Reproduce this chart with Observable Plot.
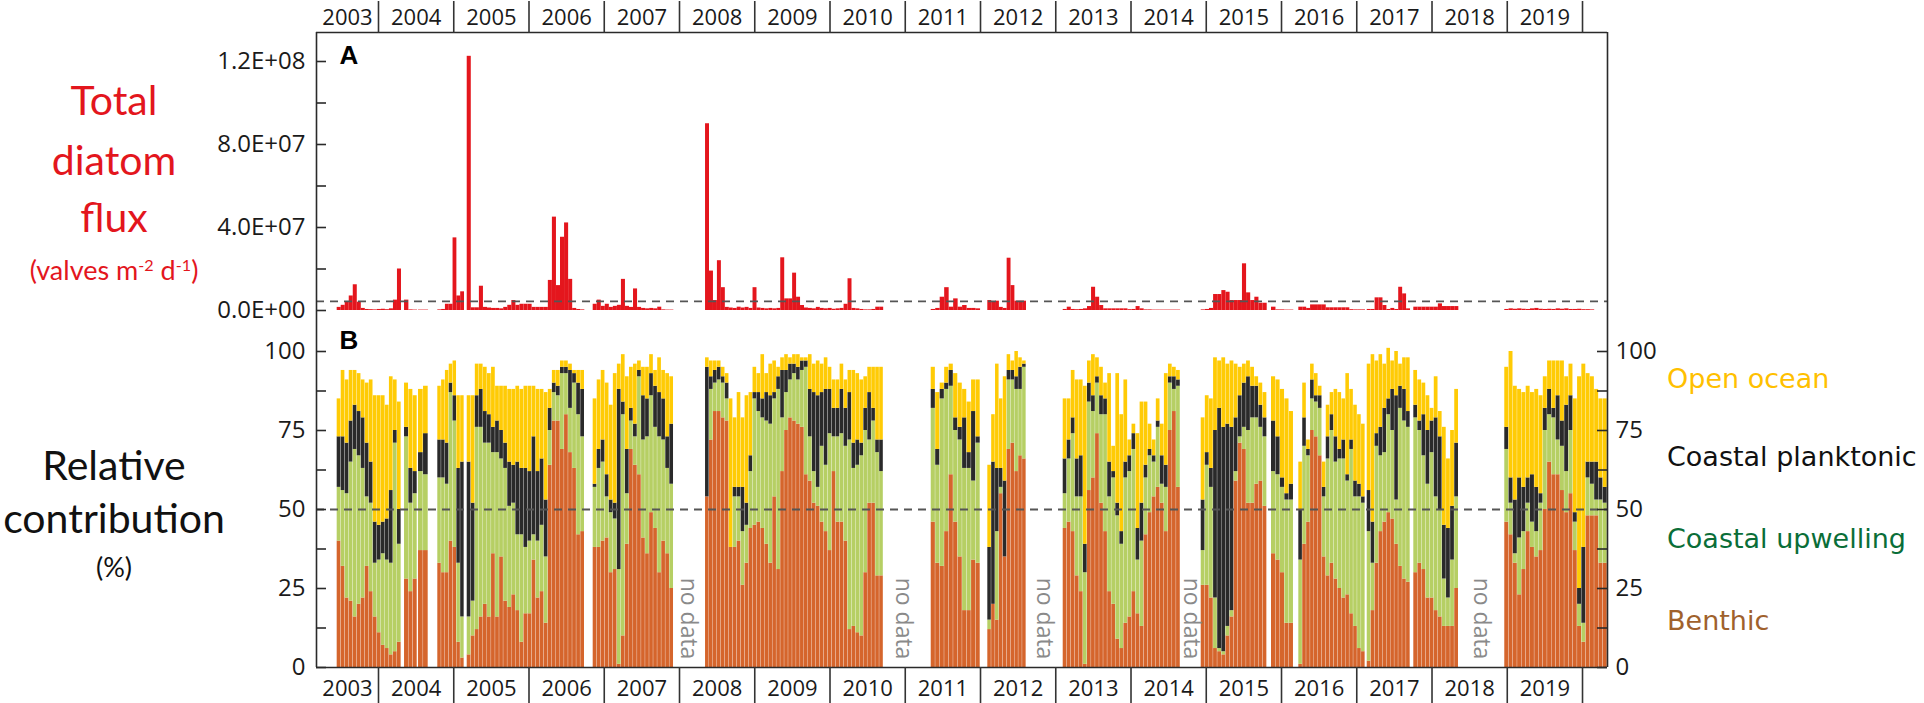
<!DOCTYPE html>
<html><head><meta charset="utf-8">
<script src="https://cdn.jsdelivr.net/npm/d3@7"></script>
<script src="https://cdn.jsdelivr.net/npm/@observablehq/plot@0.6"></script>
<style>
html,body{margin:0;padding:0;background:#fff;}
body{width:1924px;height:703px;overflow:hidden;position:relative;font-family:"Open Sans",sans-serif;}
.abs{position:absolute;}
.tl{position:absolute;left:0;width:228px;text-align:center;font-family:Lato,"Open Sans",sans-serif;white-space:nowrap;}
.lg{position:absolute;left:1667px;font-family:"DejaVu Sans",sans-serif;font-size:27px;line-height:34px;white-space:nowrap;}
sup{font-size:60%;vertical-align:0;position:relative;top:-0.55em;}
</style></head><body>
<div id="pa" class="abs" style="left:0;top:0"></div>
<div id="pb" class="abs" style="left:0;top:320px"></div>

<div class="tl" style="top:77px;font-size:41px;line-height:46px;color:#E3161D">Total</div>
<div class="tl" style="top:137px;font-size:41px;line-height:46px;color:#E3161D">diatom</div>
<div class="tl" style="top:194px;font-size:41px;line-height:46px;color:#E3161D">flux</div>
<div class="tl" style="top:253px;font-size:27px;line-height:34px;color:#E3161D">(valves m<sup>-2</sup> d<sup>-1</sup>)</div>

<div class="tl" style="top:442px;font-size:41px;line-height:46px;color:#111">Relative</div>
<div class="tl" style="top:495px;font-size:41px;line-height:46px;color:#111">contribution</div>
<div class="tl" style="top:552px;font-size:27px;line-height:30px;color:#111">(%)</div>

<div class="lg" style="top:362px;color:#FFC000">Open ocean</div>
<div class="lg" style="top:440px;color:#111">Coastal planktonic</div>
<div class="lg" style="top:522px;color:#0A6E38">Coastal upwelling</div>
<div class="lg" style="top:604px;color:#A0612C">Benthic</div>

<script>
// ---- sampling deployments (decimal year of first cup, cup interval in years, number of cups)
const segStart = [2003.451, 2004.346, 2004.532, 2004.788, 2005.179, 2006.853, 2008.346, 2011.345, 2012.097, 2013.099, 2014.933, 2015.867, 2016.230, 2017.139, 2017.758, 2018.967];
const segStep  = [0.0534, 0.0576, 0.0665, 0.0507, 0.0539, 0.0536, 0.0526, 0.0596, 0.0514, 0.0538, 0.0548, 0.0593, 0.0521, 0.0523, 0.0544, 0.0569];
const segCount = [16, 3, 2, 7, 29, 20, 45, 11, 10, 29, 16, 5, 17, 11, 11, 24];

// ---- total diatom flux, millions of valves m-2 d-1
const fluxMillions = [
  1.5,2.5,4,7,12.4,4,1,0.5,0.4,0.3,0.5,0.6,0.4,0.8,5,20,
  5,0.3,0.2,
  0.2,0.2,
  0.3,0.5,3,3,35,7,9,
  122.5,1.3,1.3,11.7,1.5,1.2,1,1,0.8,1.5,2.5,4.8,2.5,3,3,3,1.5,1.5,1.5,1.5,14.5,45,12,35.3,42.2,15,1,0.5,0.3,
  3,5,2,3,1.5,2,2.5,15,2,1.5,10.4,1.5,1,0.8,1,0.8,1.6,0.3,0.2,0.2,
  90,19,4.8,24,11,1.5,1.2,1,1.6,1.2,1.5,1,11,1.2,1,0.8,1,0.8,1,25.4,5.6,5.6,18,6.4,2.4,1.2,1,0.8,1.5,1,0.8,1,0.6,0.8,1,3,15.3,1,0.8,0.5,0.3,0.3,0.5,1.6,1.6,
  0.5,1,6.4,11,1.6,5.6,1.6,2.4,1,1,0.8,
  4.8,4,4.5,1.5,1,25.2,12,4.5,4.5,4.5,
  0.5,1.6,0.5,0.4,0.5,0.8,1.9,11.2,6.4,2.4,0.8,0.8,0.8,0.8,0.8,0.8,0.4,0.5,1.9,0.8,0.3,0.3,0.2,0.2,0.2,0.2,0.2,0.2,0.2,
  0.3,0.5,1,7.7,7.7,9.6,8.8,4.8,4.8,4.8,22.5,8.5,4.8,6.4,3.5,3.5,
  1.6,0.3,0.3,0.2,0.2,
  1.6,1.6,1,2.7,2.7,2.7,2.7,1.3,1.3,1.3,1.3,1.3,1.3,0.4,0.3,0.3,0.3,
  0.5,0.5,6.1,6.1,2.4,0.5,1,0.5,11.2,8,0.8,
  1.6,1.6,1.6,1.6,1.6,1.6,3.2,1.9,1.9,1.9,1.9,
  0.5,0.8,0.6,0.8,0.6,0.5,0.8,1,0.6,0.5,0.6,0.5,0.8,0.6,0.8,0.5,0.5,0.6,0.4,0.4,0.3,0,0,0
];

// ---- relative contribution (%)
const benthic = [
  40,32,22,21,16,20,22,32,24,16,11,7,6,4,5,8,
  28,24,28,
  37,37,
  33,30,30,40,38,8,3,
  4,10,12,16,20,16,36,16,35,21,19,23,18,8,17,17,34,22,24,14,64,78,78,69,80,68,63,42,43,
  38,38,40,41,30,31,1,10,39,69,64,61,41,36,49,44,30,40,36,25,
  54,72,81,81,79,78,38,38,40,26,33,44,45,46,44,39,33,54,31,62,75,79,78,77,76,61,59,52,51,46,43,37,62,46,46,40,12,13,11,10,30,52,52,29,29,
  46,33,32,43,61,46,35,18,18,34,33,
  12,20,15,55,35,69,71,62,67,66,
  44,46,43,29,24,1,56,60,74,52,43,24,20,9,6,14,16,24,17,13,42,49,54,57,52,43,75,81,57,
  26,26,22,6,5,4,10,16,59,71,69,52,52,58,59,51,
  36,34,30,14,14,
  1,39,46,75,73,67,35,29,33,28,25,22,23,17,13,6,5,
  2,18,33,43,46,49,47,39,32,28,27,
  30,33,31,22,22,18,16,13,13,13,25,
  46,42,33,23,31,43,38,35,37,50,65,61,61,56,49,55,37,13,8,48,48,48,33,33
];
const coastalUpwelling = [
  17,24,33,44,53,47,41,22,28,17,23,29,28,29,66,31,
  45,28,27,
  25,24,
  27,30,28,47,40,25,13,
  12,11,64,60,51,55,32,52,31,42,32,29,24,34,21,23,8,18,21,21,11,9,8,24,13,14,27,38,30,
  19,25,25,13,19,16,30,70,16,9,9,31,31,37,37,32,43,32,27,33,
  0,16,9,10,11,7,0,16,14,17,12,18,40,35,35,39,44,31,57,17,12,12,15,14,18,34,14,10,6,24,21,37,11,27,28,30,60,50,53,57,45,20,26,39,33,
  36,31,53,45,28,29,37,45,45,25,38,
  3,0,28,2,0,22,20,26,21,29,
  11,20,31,25,30,29,28,21,16,28,37,30,40,39,33,46,46,45,17,27,18,18,11,19,6,14,15,7,32,
  11,38,35,16,1,1,3,2,3,2,7,23,27,21,17,22,
  26,27,27,39,39,
  33,31,21,10,11,15,19,37,42,37,41,44,36,52,41,48,47,
  41,15,37,24,22,31,28,14,50,50,49,
  49,42,36,36,46,36,34,15,9,21,29,
  23,10,3,18,12,9,8,8,15,25,15,18,11,14,13,20,9,7,6,12,10,5,20,19
];
const coastalPlanktonic = [
  16,17,16,13,14,14,16,17,13,13,11,10,13,23,4,11,
  3,11,7,
  6,13,
  12,12,13,3,8,30,49,
  49,31,10,12,10,9,8,10,9,8,14,12,23,21,25,22,31,22,21,18,7,3,3,2,2,12,3,10,15,
  1,6,7,7,4,5,57,4,14,4,4,2,14,12,7,13,14,13,10,19,
  41,4,4,4,2,5,0,3,3,14,7,5,2,6,6,9,9,2,4,15,7,5,3,4,3,2,15,25,29,17,24,14,9,9,14,12,15,8,8,4,7,15,4,4,10,
  6,5,3,2,5,4,4,16,5,22,2,
  23,45,20,6,24,3,3,4,7,1,
  11,6,5,12,13,9,6,5,2,6,5,11,2,4,4,5,5,5,10,12,4,2,2,2,9,7,2,4,2,
  16,4,6,53,76,71,64,58,17,13,14,17,10,10,7,6,
  16,12,3,2,5,
  16,9,2,6,2,4,3,7,5,8,3,6,2,3,5,4,2,
  13,13,4,9,14,5,13,33,7,10,5,
  4,3,13,17,10,25,23,17,22,17,17,
  7,8,17,19,14,8,15,14,3,7,8,3,14,8,21,11,3,5,24,5,7,12,7,5
];
const openOcean = [
  12,21,20,16,11,12,12,19,26,40,41,40,36,36,16,34,
  14,25,24,
  20,15,
  17,19,23,6,11,23,21,
  21,34,10,8,14,13,19,11,14,18,23,24,24,25,26,27,16,26,22,34,6,4,5,2,2,2,1,4,6,
  27,22,22,29,30,41,8,15,23,13,19,3,9,10,6,5,11,9,20,15,
  3,5,3,2,3,3,47,22,30,22,34,20,8,6,14,6,10,10,3,4,5,2,3,4,1,1,11,9,11,9,10,7,9,9,8,9,7,23,21,20,10,8,13,23,23,
  7,18,2,5,2,14,14,9,16,10,18,
  26,15,33,22,33,5,3,8,3,1,
  19,13,15,25,24,50,7,13,6,9,5,28,8,41,37,26,5,3,30,32,20,8,5,7,10,29,4,3,3,
  26,18,22,23,15,22,19,21,17,9,6,5,6,3,7,8,
  14,18,28,30,23,
  15,11,3,5,7,3,8,10,7,15,18,13,32,16,24,22,23,
  40,53,23,23,14,16,9,14,7,10,17,
  11,13,10,11,4,13,8,31,22,24,17,
  19,40,36,28,30,29,26,31,31,10,9,15,11,19,9,10,36,67,58,28,27,23,25,28
];

const seriesNames  = ["Benthic", "Coastal upwelling", "Coastal planktonic", "Open ocean"];
const seriesColors = ["#D5652C", "#B6CF64", "#2A2A2A", "#FFCB05"];
const yearLabelsText = ["2003","2004","2005","2006","2007","2008","2009","2010","2011","2012","2013","2014","2015","2016","2017","2018","2019"];
const yearBounds = [2004,2005,2006,2007,2008,2009,2010,2011,2012,2013,2014,2015,2016,2017,2018,2019,2020];
const fluxTicks = [0, 4e7, 8e7, 1.2e8];
const fluxMinor = [2e7, 6e7, 1e8];
const fluxThreshold = 4.4e6;
const pctTicks = [0, 25, 50, 75, 100];
const pctMinor = [12.5, 37.5, 62.5, 87.5];
const noDataYears = [2008.12, 2010.98, 2012.85, 2014.80, 2018.66];

// ---- layout
const W = 1924, ML = 316, MR = 317;
const X0 = 2003.1761, X1 = 2020.332;
const pxPerYear = (W - ML - MR) / (X1 - X0);
const tickYears = 10 / pxPerYear;
const yMinA = -10 / 83 * 4e7, yMaxA = 278 / 83 * 4e7;
const yMaxB = 100 * 347 / 316;

// ---- build samples
const samples = [];
let k = 0;
segStart.forEach((s, si) => {
  for (let i = 0; i < segCount[si]; i++, k++) {
    const t0 = s + i * segStep[si];
    samples.push({t0, t1: t0 + segStep[si], flux: fluxMillions[k] * 1e6,
      vals: [benthic[k], coastalUpwelling[k], coastalPlanktonic[k], openOcean[k]]});
  }
});
const stacked = [];
samples.forEach(d => {
  let acc = 0;
  d.vals.forEach((v, j) => {
    const val = v || 0;
    stacked.push({t0: d.t0, t1: d.t1, series: seriesNames[j], y1: acc, y2: acc + val});
    acc += val;
  });
});

const yearLabels = yearLabelsText.map((l, i) => ({label: l, mid: i === 0 ? (X0 + 2004) / 2 : 2003 + i + 0.5}));
const fmtE = d => d.toExponential(1).toUpperCase().replace(/E([+-])(\d)$/, "E$10$2");
const st = {fontFamily: "'Open Sans', sans-serif", fontSize: "22px", color: "#1a1a1a", background: "transparent", overflow: "visible"};
const axisStroke = {stroke: "#2a2a2a", strokeWidth: 1.6};

const plotA = Plot.plot({
  width: W, height: 320, marginLeft: ML, marginRight: MR, marginTop: 32, marginBottom: 0,
  x: {domain: [X0, X1]}, y: {domain: [yMinA, yMaxA]}, style: st,
  marks: [
    Plot.rect(samples, {x1: "t0", x2: "t1", y1: 0, y2: "flux", fill: "#E4161D"}),
    Plot.ruleY([fluxThreshold], {x1: X0, x2: X1, stroke: "#555", strokeWidth: 1.8, strokeDasharray: "8,6"}),
    Plot.ruleX([X0, X1], {y1: yMinA, y2: yMaxA, ...axisStroke}),
    Plot.ruleY([yMaxA], {x1: X0, x2: X1, ...axisStroke}),
    Plot.ruleY(fluxTicks.concat(fluxMinor), {x1: X0, x2: X0 + tickYears, ...axisStroke}),
    Plot.axisY({ticks: fluxTicks, tickSize: 0, tickPadding: 11, tickFormat: fmtE, label: null, fontSize: 24}),
    Plot.axisX({anchor: "top", ticks: yearBounds, tickSize: 32, tickFormat: () => "", label: null, stroke: "#333", strokeWidth: 1.6}),
    Plot.text(yearLabels, {x: "mid", text: "label", frameAnchor: "top", lineAnchor: "middle", dy: -15, fontSize: 22}),
    Plot.text(["A"], {text: d => d, frameAnchor: "top-left", textAnchor: "start", lineAnchor: "top", dx: 23, dy: 13, fontWeight: 900, fontSize: 26, fontFamily: "'Liberation Sans', Arial, sans-serif", fill: "#000"})
  ]
});
document.getElementById("pa").append(plotA);

const plotB = Plot.plot({
  width: W, height: 383, marginLeft: ML, marginRight: MR, marginTop: 0, marginBottom: 36,
  x: {domain: [X0, X1]}, y: {domain: [0, yMaxB]}, style: st,
  color: {domain: seriesNames, range: seriesColors},
  marks: [
    Plot.rect(stacked, {x1: "t0", x2: "t1", y1: "y1", y2: "y2", fill: "series", insetRight: 0.35}),
    Plot.ruleY([50], {x1: X0, x2: X1, stroke: "#555", strokeWidth: 1.8, strokeDasharray: "8,6"}),
    Plot.text(noDataYears, {x: d => d, y: 15.5, text: () => "no data", rotate: 90, fill: "#8a8a8a", fontSize: 23}),
    Plot.ruleX([X0, X1], {y1: 0, y2: yMaxB, ...axisStroke}),
    Plot.ruleY([0], {x1: X0, x2: X1, ...axisStroke}),
    Plot.ruleY(pctTicks.concat(pctMinor), {x1: X0, x2: X0 + tickYears, ...axisStroke}),
    Plot.ruleY(pctTicks.concat(pctMinor), {x1: X1 - tickYears, x2: X1, ...axisStroke}),
    Plot.axisY({anchor: "left", ticks: pctTicks, tickSize: 0, tickPadding: 11, label: null, fontSize: 24}),
    Plot.axisY({anchor: "right", ticks: pctTicks, tickSize: 0, tickPadding: 8, label: null, fontSize: 24}),
    Plot.axisX({anchor: "bottom", ticks: yearBounds, tickSize: 36, tickFormat: () => "", label: null, stroke: "#333", strokeWidth: 1.6}),
    Plot.text(yearLabels, {x: "mid", text: "label", frameAnchor: "bottom", lineAnchor: "middle", dy: 21, fontSize: 22}),
    Plot.text(["B"], {text: d => d, frameAnchor: "top-left", textAnchor: "start", lineAnchor: "top", dx: 23, dy: 10, fontWeight: 900, fontSize: 26, fontFamily: "'Liberation Sans', Arial, sans-serif", fill: "#000"})
  ]
});
document.getElementById("pb").append(plotB);
</script>
</body></html>
